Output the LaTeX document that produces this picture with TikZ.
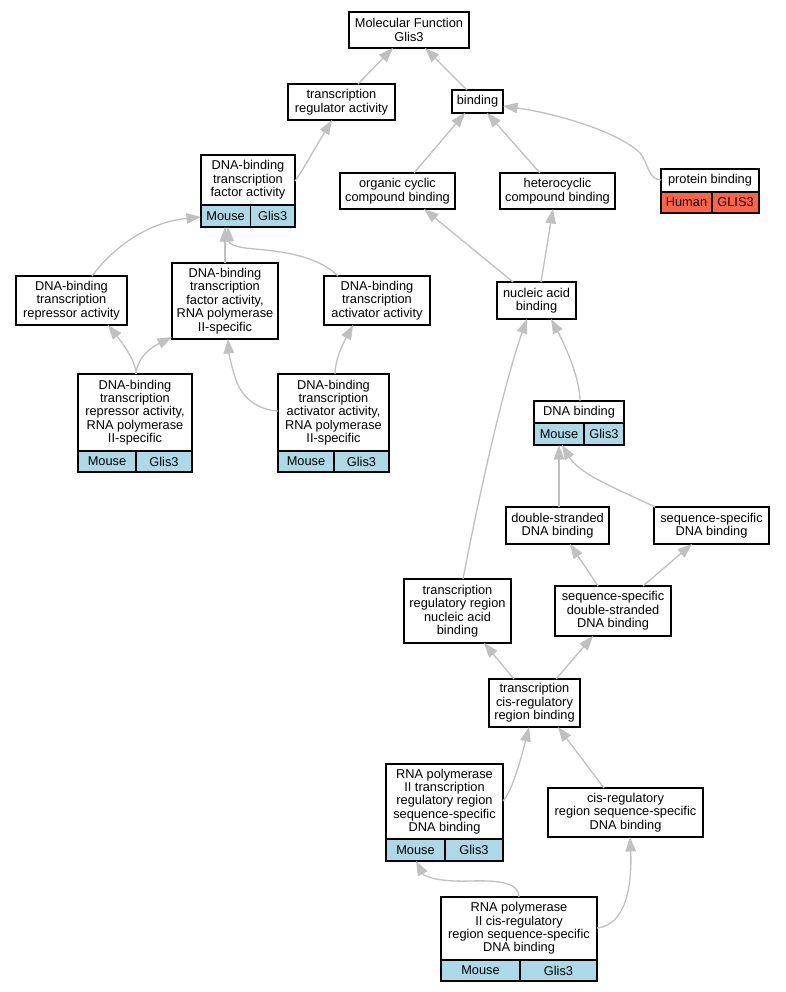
\documentclass[tikz,border=0pt]{standalone}
\usepackage{fontspec}
\setmainfont{Liberation Sans}
\usetikzlibrary{arrows.meta,calc}
\definecolor{edgegray}{HTML}{C0C0C0}
\definecolor{mouseblue}{HTML}{ADD8E6}
\definecolor{humanred}{HTML}{FF6347}
\newcommand{\gofont}{\fontsize{12.8}{13.4}\selectfont}
\newcommand{\gonode}[6]{\node[gobox, minimum width=#4pt, minimum height=#5pt] (#1) at (#2,#3) {#6};}
\newcommand{\gocell}[7]{\node[gobox, fill=#6, minimum width=#4pt, minimum height=#5pt] (#1) at (#2,#3) {#7};}
\tikzset{
  gobox/.style={draw=black, line width=1.3pt, fill=white, align=center, inner sep=0pt, outer sep=0pt, anchor=north west, font=\gofont},
  edgeline/.style={draw=edgegray, line width=1.3pt, -{Triangle[length=14.5pt,width=10.5pt]}}
}
\begin{document}
\begin{tikzpicture}[x=1pt,y=-1pt]
\useasboundingbox[fill=white] (0,0) rectangle (785,992);
% nodes
\gonode{MF}{349}{12}{120}{36}{Molecular Function\\Glis3}
\gonode{TRA}{288}{84}{107}{36}{transcription\\regulator activity}
\gonode{BIND}{452}{90}{51}{23}{binding}
\gonode{TFA}{201}{155}{94}{50}{DNA-binding\\transcription\\factor activity}
\gocell{TFAm}{201}{205}{49.3}{22}{mouseblue}{Mouse}
\gocell{TFAg}{250.3}{205}{44.7}{22}{mouseblue}{Glis3}
\gonode{OCC}{340}{173}{115}{36}{organic cyclic\\compound binding}
\gonode{HCB}{500}{173}{115}{36}{heterocyclic\\compound binding}
\gonode{PB}{661}{169}{98}{23}{protein binding}
\gocell{PBh}{661}{192}{51}{21}{humanred}{Human}
\gocell{PBg}{712}{192}{47}{21}{humanred}{GLIS3}
\gonode{REP}{16}{276}{111}{49}{DNA-binding\\transcription\\repressor activity}
\gonode{TFR}{172}{263}{106}{76}{DNA-binding\\transcription\\factor activity,\\RNA polymerase\\II-specific}
\gonode{ACT}{324}{276}{106}{49}{DNA-binding\\transcription\\activator activity}
\gonode{REPR}{78}{374}{114}{77}{DNA-binding\\transcription\\repressor activity,\\RNA polymerase\\II-specific}
\gocell{REPRm}{78}{451}{58}{21}{mouseblue}{Mouse}
\gocell{REPRg}{136}{451}{56}{21}{mouseblue}{Glis3}
\gonode{ACTR}{278}{374}{111}{77}{DNA-binding\\transcription\\activator activity,\\RNA polymerase\\II-specific}
\gocell{ACTRm}{278}{451}{56}{21}{mouseblue}{Mouse}
\gocell{ACTRg}{334}{451}{55}{21}{mouseblue}{Glis3}
\gonode{NAB}{497}{282}{79}{37}{nucleic acid\\binding}
\gonode{DNAB}{534}{401}{90}{22}{DNA binding}
\gocell{DNABm}{534}{423}{50}{22}{mouseblue}{Mouse}
\gocell{DNABg}{584}{423}{40}{22}{mouseblue}{Glis3}
\gonode{DSB}{506}{507}{103}{37}{double-stranded\\DNA binding}
\gonode{SSB}{654}{507}{115}{37}{sequence-specific\\DNA binding}
\gonode{TRRNA}{404}{579}{107}{64}{transcription\\regulatory region\\nucleic acid\\binding}
\gonode{SSDS}{555}{586}{116}{50}{sequence-specific\\double-stranded\\DNA binding}
\gonode{TCRB}{489}{679}{91}{48}{transcription\\cis-regulatory\\region binding}
\gonode{R2TR}{386}{764}{117}{75}{RNA polymerase\\II transcription\\regulatory region\\sequence-specific\\DNA binding}
\gocell{R2TRm}{386}{839}{59}{22}{mouseblue}{Mouse}
\gocell{R2TRg}{445}{839}{58}{22}{mouseblue}{Glis3}
\gonode{CRSS}{548}{788}{155}{49}{cis-regulatory\\region sequence-specific\\DNA binding}
\gonode{R2CR}{441}{897}{156}{63}{RNA polymerase\\II cis-regulatory\\region sequence-specific\\DNA binding}
\gocell{R2CRm}{441}{960}{79}{21}{mouseblue}{Mouse}
\gocell{R2CRg}{520}{960}{77}{21}{mouseblue}{Glis3}
% edges
\draw[edgeline] ($(TRA.north west)+(70,0)$) -- ($(MF.south west)+(44,0)$);
\draw[edgeline] ($(BIND.north west)+(15,0)$) -- ($(MF.south west)+(76,0)$);
\draw[edgeline] ($(TFA.north west)+(94,26)$) .. controls (300,175) and (315,148) .. ($(TRA.south west)+(44,0)$);
\draw[edgeline] ($(OCC.north west)+(74,0)$) -- ($(BIND.south west)+(13,0)$);
\draw[edgeline] ($(HCB.north west)+(40,0)$) -- ($(BIND.south west)+(35,0)$);
\draw[edgeline] ($(PB.north west)+(0,11)$) .. controls (648,180) and (648,162) .. (640,153) .. controls (620,133) and (560,114) .. ($(BIND.north east)+(0,16)$);
\draw[edgeline] ($(NAB.north west)+(16,0)$) -- ($(OCC.south west)+(84,0)$);
\draw[edgeline] ($(NAB.north west)+(44,0)$) -- ($(HCB.south west)+(53,0)$);
\draw[edgeline] ($(REP.north west)+(76,0)$) .. controls (115,245) and (150,222) .. ($(TFAm.north west)+(0,12)$);
\draw[edgeline] ($(TFR.north west)+(53,0)$) -- ($(TFAm.south west)+(24,0)$);
\draw[edgeline] ($(ACT.north west)+(14,0)$) .. controls (320,258) and (290,252) .. (255,249) .. controls (240,248) and (229,245) .. ($(TFAm.south west)+(27,0)$);
\draw[edgeline] ($(REPR.north west)+(58,0)$) .. controls (136,360) and (120,340) .. ($(REP.south west)+(92,0)$);
\draw[edgeline] ($(REPR.north west)+(58,0)$) .. controls (137,358) and (150,348) .. ($(TFR.north west)+(0,74)$);
\draw[edgeline] ($(ACTR.north west)+(0,37)$) .. controls (258,410) and (242,398) .. (236,380) .. controls (232,368) and (229,355) .. ($(TFR.south west)+(56,0)$);
\draw[edgeline] ($(ACTR.north west)+(57,0)$) .. controls (335,358) and (345,340) .. ($(ACT.south west)+(29,0)$);
\draw[edgeline] ($(DNAB.north west)+(46,0)$) .. controls (580,378) and (565,345) .. ($(NAB.south west)+(54,0)$);
\draw[edgeline] ($(TRRNA.north west)+(59,0)$) .. controls (480,490) and (505,380) .. ($(NAB.south west)+(30,0)$);
\draw[edgeline] ($(DSB.north west)+(53,0)$) -- (DNABm.south);
\draw[edgeline] ($(SSB.north west)+(1,0)$) .. controls (620,490) and (580,475) .. ($(DNABm.south west)+(28,0)$);
\draw[edgeline] ($(SSDS.north west)+(43,0)$) -- ($(DSB.south west)+(64,0)$);
\draw[edgeline] ($(SSDS.north west)+(88,0)$) -- ($(SSB.south west)+(38,0)$);
\draw[edgeline] ($(TCRB.north west)+(25,0)$) -- ($(TRRNA.south west)+(80,0)$);
\draw[edgeline] ($(TCRB.north west)+(67,0)$) -- ($(SSDS.south west)+(38,0)$);
\draw[edgeline] ($(R2TR.north west)+(117,37)$) .. controls (512,792) and (522,755) .. ($(TCRB.south west)+(40,0)$);
\draw[edgeline] ($(CRSS.north west)+(56,0)$) -- ($(TCRB.south west)+(69,0)$);
\draw[edgeline] ($(R2CR.north west)+(78,0)$) .. controls (519,883) and (500,880) .. (470,881) .. controls (445,882) and (425,878) .. ($(R2TRm.south west)+(30,0)$);
\draw[edgeline] ($(R2CR.north west)+(156,31)$) .. controls (628,925) and (632,880) .. ($(CRSS.south west)+(82,0)$);
\end{tikzpicture}
\end{document}
